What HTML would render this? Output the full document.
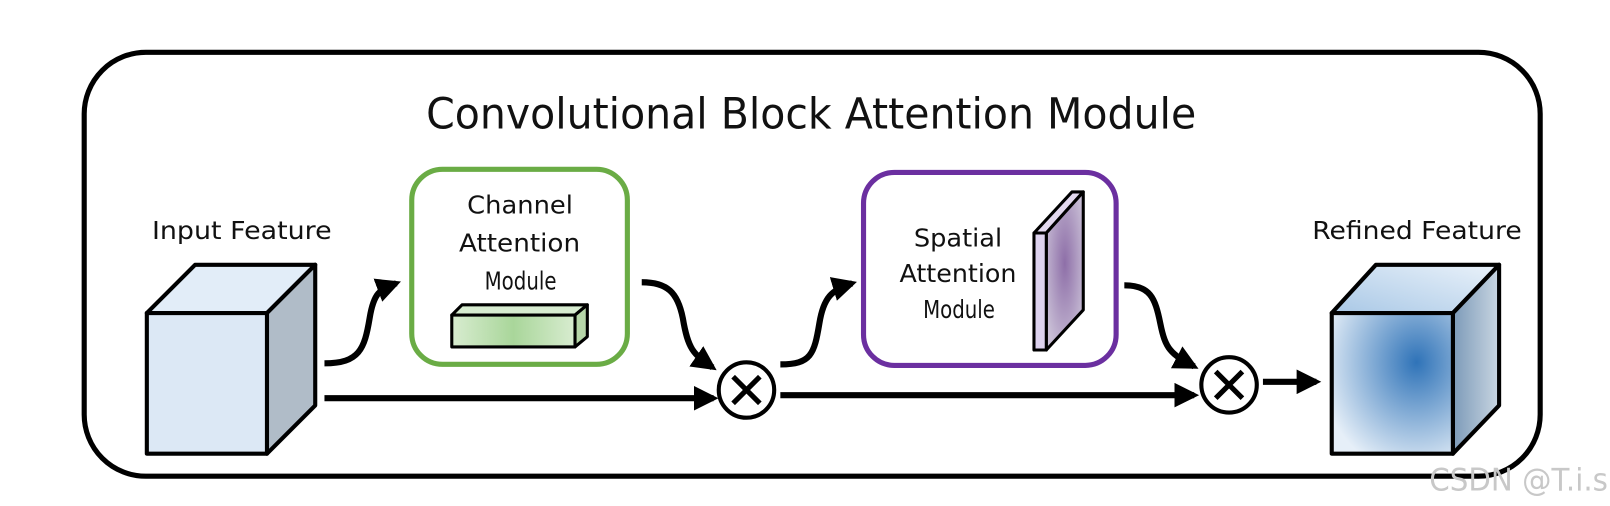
<!DOCTYPE html>
<html><head><meta charset="utf-8"><style>
html,body{margin:0;padding:0;background:#fff;}
svg{display:block;}
text{font-family:"DejaVu Sans","Liberation Sans",sans-serif;fill:#111;}
</style></head><body>
<svg width="1610" height="506" viewBox="0 0 1568 493" preserveAspectRatio="none" xmlns="http://www.w3.org/2000/svg">
<defs>
<marker id="ah" viewBox="0 0 10 10" refX="8" refY="5" markerWidth="4" markerHeight="4" orient="auto" markerUnits="strokeWidth">
<path d="M0,0 L10,5 L0,10 z" fill="#000"/></marker>
<linearGradient id="gbar" x1="0" x2="1"><stop offset="0" stop-color="#d8ecd0"/><stop offset="0.5" stop-color="#a9d69a"/><stop offset="1" stop-color="#d8ecd0"/></linearGradient>
<radialGradient id="pslab" cx="0.5" cy="0.45" r="0.6"><stop offset="0" stop-color="#8e6fa8"/><stop offset="1" stop-color="#c9bfd6"/></radialGradient>
<radialGradient id="rcube" cx="0.7" cy="0.35" r="0.8"><stop offset="0" stop-color="#2f73b8"/><stop offset="1" stop-color="#e6eff8"/></radialGradient>
<linearGradient id="rside" x1="0" x2="1"><stop offset="0" stop-color="#7c9ab8"/><stop offset="1" stop-color="#c9d6e2"/></linearGradient>
<linearGradient id="rtop" x1="0" x2="1" y1="1" y2="0"><stop offset="0" stop-color="#a9c8e6"/><stop offset="1" stop-color="#eaf2fa"/></linearGradient>
</defs>
<rect x="82" y="51" width="1418" height="413" rx="60" fill="#fff" stroke="#000" stroke-width="5"/>
<text x="415" y="125" font-size="42" textLength="750" lengthAdjust="spacingAndGlyphs">Convolutional Block Attention Module</text>

<text x="148" y="233" font-size="24" textLength="175" lengthAdjust="spacingAndGlyphs">Input Feature</text>
<g stroke="#000" stroke-width="4" stroke-linejoin="round">
<polygon points="143,305 190,258 307,258 260,305" fill="#e2edf8"/>
<polygon points="260,305 307,258 307,395 260,442" fill="#b0bcc8"/>
<rect x="143" y="305" width="117" height="137" fill="#dce8f5"/>
</g>

<rect x="401" y="165" width="210" height="190" rx="30" fill="#fff" stroke="#6aac45" stroke-width="5"/>
<text font-size="24">
<tspan x="455" y="208" textLength="103" lengthAdjust="spacingAndGlyphs">Channel</tspan>
<tspan x="447" y="245" textLength="118" lengthAdjust="spacingAndGlyphs">Attention</tspan>
<tspan x="472" y="282" textLength="70" lengthAdjust="spacingAndGlyphs">Module</tspan></text>
<g stroke="#000" stroke-width="3" stroke-linejoin="round">
<polygon points="440,307 450,297 572,297 560,307" fill="#d7ecd0"/>
<polygon points="560,307 572,297 572,328 560,338" fill="#b6d6a8"/>
<rect x="440" y="307" width="120" height="31" fill="url(#gbar)"/>
</g>

<rect x="841" y="168" width="246" height="188" rx="30" fill="#fff" stroke="#6b2fa0" stroke-width="5"/>
<text font-size="24">
<tspan x="890" y="240" textLength="86" lengthAdjust="spacingAndGlyphs">Spatial</tspan>
<tspan x="876" y="275" textLength="114" lengthAdjust="spacingAndGlyphs">Attention</tspan>
<tspan x="899" y="310" textLength="70" lengthAdjust="spacingAndGlyphs">Module</tspan></text>
<g stroke="#000" stroke-width="3" stroke-linejoin="round">
<polygon points="1007,227 1044,187 1055,187 1019,227" fill="#e3d9ef"/>
<polygon points="1019,227 1055,187 1055,302 1019,341" fill="url(#pslab)"/>
<rect x="1007" y="227" width="12" height="114" fill="#ddd2ee"/>
</g>

<text x="1278" y="233" font-size="24" textLength="204" lengthAdjust="spacingAndGlyphs">Refined Feature</text>
<g stroke="#000" stroke-width="4" stroke-linejoin="round">
<polygon points="1297,305 1340,258 1460,258 1415,305" fill="url(#rtop)"/>
<polygon points="1415,305 1460,258 1460,395 1415,442" fill="url(#rside)"/>
<rect x="1297" y="305" width="118" height="137" fill="url(#rcube)"/>
</g>

<g fill="none" stroke="#000" stroke-width="6">
<path d="M316,354 C350,354 355,340 360,310 C364,285 370,282 386,276" marker-end="url(#ah)"/>
<path d="M625,275 C650,275 660,285 665,310 C670,340 675,345 694,358" marker-end="url(#ah)"/>
<path d="M316,388 L695,388" marker-end="url(#ah)"/>
<path d="M760,355 C790,355 793,345 798,315 C802,290 810,282 830,276" marker-end="url(#ah)"/>
<path d="M1095,278 C1120,278 1125,290 1130,315 C1135,340 1140,345 1163,357" marker-end="url(#ah)"/>
<path d="M760,385 L1163,385" marker-end="url(#ah)"/>
<path d="M1230,372 L1282,372" marker-end="url(#ah)"/>
</g>
<g fill="#fff" stroke="#000" stroke-width="4">
<circle cx="727" cy="380" r="27"/>
<circle cx="1197" cy="375" r="27"/>
</g>
<g stroke="#000" stroke-width="5">
<path d="M714,367 L740,393 M740,367 L714,393"/>
<path d="M1184,362 L1210,388 M1210,362 L1184,388"/>
</g>
<text x="1392" y="478" font-size="30" textLength="174" lengthAdjust="spacingAndGlyphs" style="fill:#c8c8c8">CSDN @T.i.s</text>
</svg>
</body></html>
